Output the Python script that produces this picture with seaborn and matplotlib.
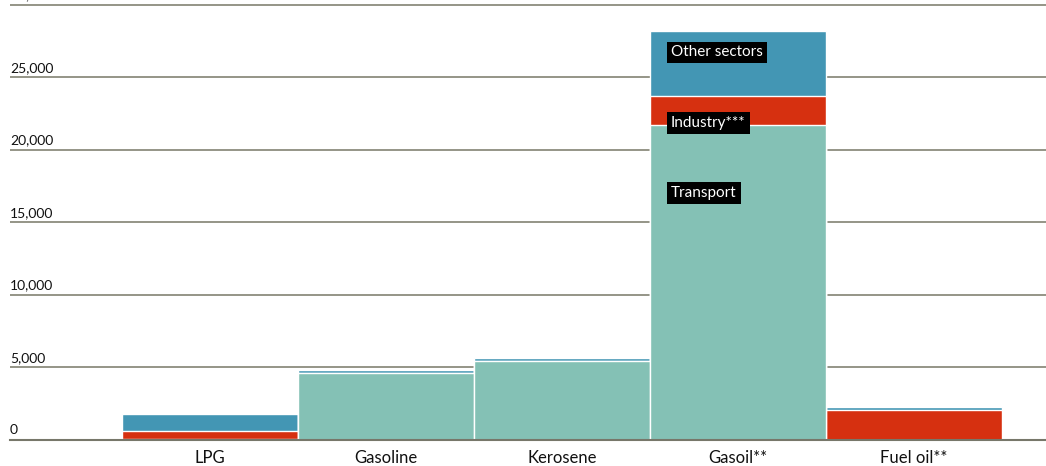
"""
Consumo de derivados por sector - barras apiladas
"""

import pandas as pd
import numpy as np
import matplotlib
matplotlib.use('Agg')
import matplotlib.pyplot as plt
import matplotlib.transforms as mtransforms
import seaborn as sns

# datos
productos = ['LPG', 'Gasoline', 'Kerosene', 'Gasoil**', 'Fuel oil**']
transporte = [40, 4620, 5440, 21750, 0]
industria = [560, 0, 0, 1950, 2060]
otros = [1190, 190, 190, 4500, 200]

y_ticks = [0, 5000, 10000, 15000, 20000, 25000, 30000]

# colores
COL_TRANSPORTE = '#84c1b5'
COL_INDUSTRIA = '#d63010'
COL_OTROS = '#4396b4'
COL_GRID = '#8c8c7e'

df = pd.DataFrame({'producto': productos, 'transporte': transporte,
                   'industria': industria, 'otros': otros})
df['nivel_ind'] = df['transporte'] + df['industria']
df['total'] = df['nivel_ind'] + df['otros']

sns.set_theme(style='white')
plt.rcParams['font.family'] = ['Lato', 'DejaVu Sans']

fig = plt.figure(figsize=(10.46, 4.66), dpi=100)
ax = fig.add_axes([10 / 1046, 26 / 466, 1 - 10 / 1046, 1 - 26 / 466])

# apilado: dibujar acumulados de arriba hacia abajo
for col, color in [('total', COL_OTROS), ('nivel_ind', COL_INDUSTRIA), ('transporte', COL_TRANSPORTE)]:
    sns.barplot(data=df, x='producto', y=col, order=productos, color=color,
                width=1.0, edgecolor='white', linewidth=1.0, saturation=1,
                ax=ax, zorder=3)

ax.set_xlim(-1.136, 4.75)
ax.set_ylim(0, 30340)
ax.set_xlabel('')
ax.set_ylabel('')

# grid
ax.set_yticks(y_ticks)
ax.yaxis.grid(True, color=COL_GRID, linewidth=1.3, zorder=0)
ax.set_yticklabels([])
ax.tick_params(axis='y', length=0)
ax.tick_params(axis='x', length=0, labelsize=12, pad=7, labelcolor='#111111')
for s in ['top', 'right', 'left']:
    ax.spines[s].set_visible(False)
ax.spines['bottom'].set_color('#77776a')
ax.spines['bottom'].set_linewidth(1.5)
ax.spines['bottom'].set_zorder(4)

trans = mtransforms.blended_transform_factory(ax.transAxes, ax.transData)
for v in y_ticks:
    ax.text(0, v + 250, f'{v:,}', transform=trans, ha='left', va='bottom',
            fontsize=10, color='#111111')

# etiquetas de sector
etiquetas = [('Other sectors', 26720), ('Industry***', 21850), ('Transport', 17040)]
for txt, yv in etiquetas:
    ax.text(2.585 + 0.035, yv, txt, ha='left', va='center', fontsize=11,
            color='white', zorder=5,
            bbox=dict(boxstyle='square,pad=0.25', facecolor='black', edgecolor='none'))

plt.savefig('out.png', dpi=100)
plt.close()
